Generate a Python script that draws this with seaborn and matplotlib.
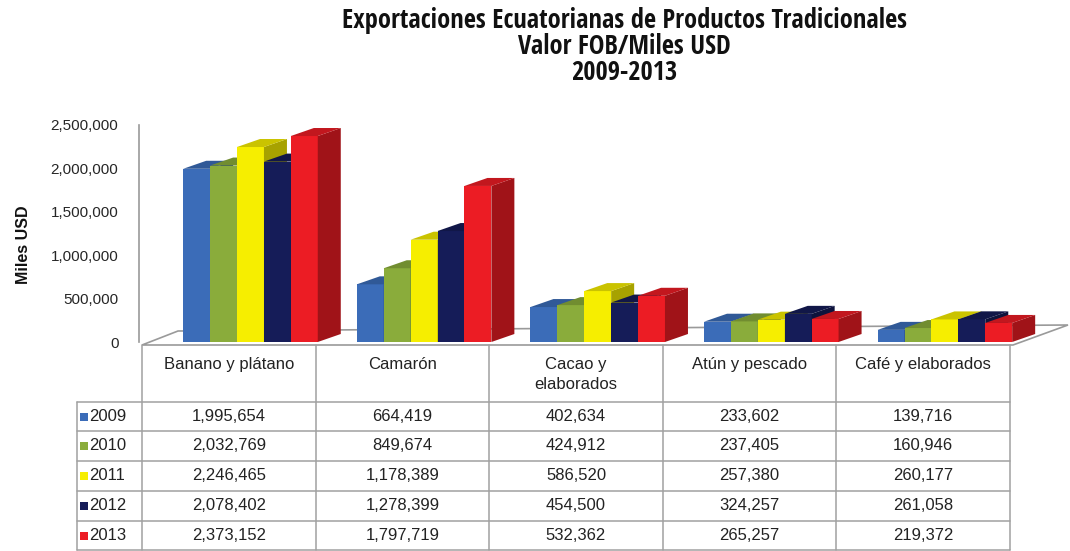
import matplotlib
matplotlib.use("Agg")
import numpy as np
import pandas as pd
import seaborn as sns
import matplotlib.pyplot as plt
from matplotlib.patches import Polygon, Rectangle
from matplotlib.lines import Line2D
from matplotlib import font_manager as fm
from matplotlib.colors import to_rgb

# ---------------- data ----------------
categories = ["Banano y plátano", "Camarón", "Cacao y\nelaborados", "Atún y pescado", "Café y elaborados"]
years = ["2009", "2010", "2011", "2012", "2013"]
v2009 = [1995654, 664419, 402634, 233602, 139716]
v2010 = [2032769, 849674, 424912, 237405, 160946]
v2011 = [2246465, 1178389, 586520, 257380, 260177]
v2012 = [2078402, 1278399, 454500, 324257, 261058]
v2013 = [2373152, 1797719, 532362, 265257, 219372]
colors = ["#3b6cb8", "#8aac3b", "#f6ee00", "#151c58", "#ec1c24"]
yticks = [0, 500000, 1000000, 1500000, 2000000, 2500000]
title_lines = ["Exportaciones Ecuatorianas de Productos Tradicionales",
               "Valor FOB/Miles USD", "2009-2013"]
ylabel = "Miles USD"

series = [v2009, v2010, v2011, v2012, v2013]
df = pd.DataFrame({
    "cat": [c for s in series for c in categories],
    "year": [y for y, s in zip(years, series) for _ in categories],
    "val": [v for s in series for v in s],
})

# ---------------- fonts ----------------
W, H = 1070, 551
sns.set_theme(style="white")
plt.rcParams['font.family'] = ['Liberation Sans', 'DejaVu Sans']


def find_condensed_bold():
    best = None
    for f in fm.fontManager.ttflist:
        name = f.name.lower()
        fname = f.fname.lower()
        is_narrow = ("narrow" in name or "condensed" in name or "narrow" in fname
                     or "condensed" in fname or str(f.stretch) in ("condensed", "semi-condensed"))
        if not is_narrow:
            continue
        if "extra" in fname or "ultra" in fname or "semi" in fname:
            continue
        w = f.weight if isinstance(f.weight, int) else (700 if "bold" in str(f.weight) else 400)
        if w < 600 or "italic" in fname or "oblique" in fname or f.style != "normal":
            continue
        score = 0
        if "liberation" in name:
            score = 3
        elif "dejavu" in name:
            score = 1
        elif "noto" in name or "roboto" in name or "open" in name:
            score = 2
        if best is None or score > best[0]:
            best = (score, f.fname)
    return fm.FontProperties(fname=best[1]) if best else None


title_fp = find_condensed_bold()
if title_fp is None:
    title_fp = fm.FontProperties(family="Liberation Sans", weight="bold")

fig = plt.figure(figsize=(W / 100, H / 100), dpi=100)
fig.patch.set_facecolor("white")


def fx(px):
    return px / W


def fy(py):
    return 1 - py / H


ax_l, ax_r, ax_t, ax_b = 142, 1010, 125, 342
ax = fig.add_axes([fx(ax_l), fy(ax_b), (ax_r - ax_l) / W, (ax_b - ax_t) / H])
ax.set_facecolor("none")

sns.barplot(data=df, x="cat", y="val", hue="year", hue_order=years, order=categories,
            palette=colors, saturation=1, width=0.775, linewidth=0, legend=False,
            errorbar=None, ax=ax)

shift = 0.125
ax.set_xlim(-0.5 - shift, len(categories) - 0.5 - shift)
ax.set_ylim(0, 2500000)
ax.set_yticks(yticks)
ax.set_yticklabels([f"{t:,}" for t in yticks], fontsize=12, color="#222222")
ax.set_xticks([])
ax.set_xlabel("")
ax.set_ylabel("")
ax.tick_params(axis="y", length=0, pad=15)
for s in ["top", "right", "bottom"]:
    ax.spines[s].set_visible(False)
ax.spines["left"].set_color("#9a9a9a")
ax.spines["left"].set_linewidth(1.2)
ax.spines["left"].set_position(("outward", 2))

# ---------------- 3D faces ----------------
px_per_x = (ax_r - ax_l) / (len(categories))
px_per_y = (ax_b - ax_t) / 2500000
dx = 23 / px_per_x
dy = 8 / px_per_y


def shade(c, f):
    r, g, b = to_rgb(c)
    return (r * f, g * f, b * f)


bars = sorted([p for p in ax.patches if isinstance(p, Rectangle)], key=lambda p: p.get_x())
for i, p in enumerate(bars):
    z = 3 + i * 0.01
    x0, w, h = p.get_x(), p.get_width(), p.get_height()
    c = p.get_facecolor()
    p.set_zorder(z)
    side = Polygon([(x0 + w, 0), (x0 + w + dx, dy), (x0 + w + dx, h + dy), (x0 + w, h)],
                   closed=True, facecolor=shade(c, 0.68), edgecolor="none", zorder=z, clip_on=False)
    top = Polygon([(x0, h), (x0 + dx, h + dy), (x0 + w + dx, h + dy), (x0 + w, h)],
                  closed=True, facecolor=shade(c, 0.82), edgecolor="none", zorder=z, clip_on=False)
    ax.add_patch(side)
    ax.add_patch(top)
    p.set_clip_on(False)

# floor
floor_px = [(142, 345), (1013, 345), (1068, 325), (178, 331)]
floor = Polygon([(fx(x), fy(y)) for x, y in floor_px], closed=True, transform=fig.transFigure,
                facecolor="white", edgecolor="#9a9a9a", linewidth=1.2, zorder=0.5, clip_on=False)
ax.add_patch(floor)

# ---------------- titles ----------------
tcx = 624
t1 = fig.text(fx(tcx), fy(21), title_lines[0], ha="center", va="center",
              fontproperties=title_fp, fontsize=18, color="#111111")
fig.canvas.draw()
bb = t1.get_window_extent()
size = min(18 * 645 / bb.width, 19)
t1.set_fontsize(size)
fig.text(fx(tcx), fy(47), title_lines[1], ha="center", va="center",
         fontproperties=title_fp, fontsize=size, color="#111111")
fig.text(fx(tcx), fy(73), title_lines[2], ha="center", va="center",
         fontproperties=title_fp, fontsize=size, color="#111111")

fig.text(fx(24), fy(245), ylabel, rotation=90, ha="center", va="center",
         fontsize=11.5, fontweight="bold", color="#111111")

# ---------------- data table ----------------
line_c = "#a0a0a0"
col_x = [ax_l + i * px_per_x for i in range(len(categories) + 1)]
row_y = [402, 431, 461, 491, 521, 550]
lab_l = 77


def hline(x0, x1, y):
    fig.add_artist(Line2D([fx(x0), fx(x1)], [fy(y), fy(y)], color=line_c, lw=1.1,
                          transform=fig.transFigure))


def vline(x, y0, y1):
    fig.add_artist(Line2D([fx(x), fx(x)], [fy(y0), fy(y1)], color=line_c, lw=1.1,
                          transform=fig.transFigure))


for y in row_y:
    hline(lab_l, col_x[-1], y)
for x in col_x:
    vline(x, 345, row_y[-1])
vline(lab_l, row_y[0], row_y[-1])

for j, cat in enumerate(categories):
    cx = (col_x[j] + col_x[j + 1]) / 2
    fig.text(fx(cx), fy(357), cat, ha="center", va="top", fontsize=12,
             color="#222222", linespacing=1.45)

for i, (yr, vals) in enumerate(zip(years, series)):
    cy = (row_y[i] + row_y[i + 1]) / 2
    fig.add_artist(Rectangle((fx(80), fy(cy + 4)), 8 / W, 8 / H, transform=fig.transFigure,
                             facecolor=colors[i], edgecolor="none"))
    fig.text(fx(89), fy(cy), yr, ha="left", va="center", fontsize=12, color="#222222")
    for j, v in enumerate(vals):
        cx = (col_x[j] + col_x[j + 1]) / 2
        fig.text(fx(cx), fy(cy), f"{v:,}", ha="center", va="center", fontsize=12, color="#222222")

fig.savefig("out.png", dpi=100, facecolor="white")
